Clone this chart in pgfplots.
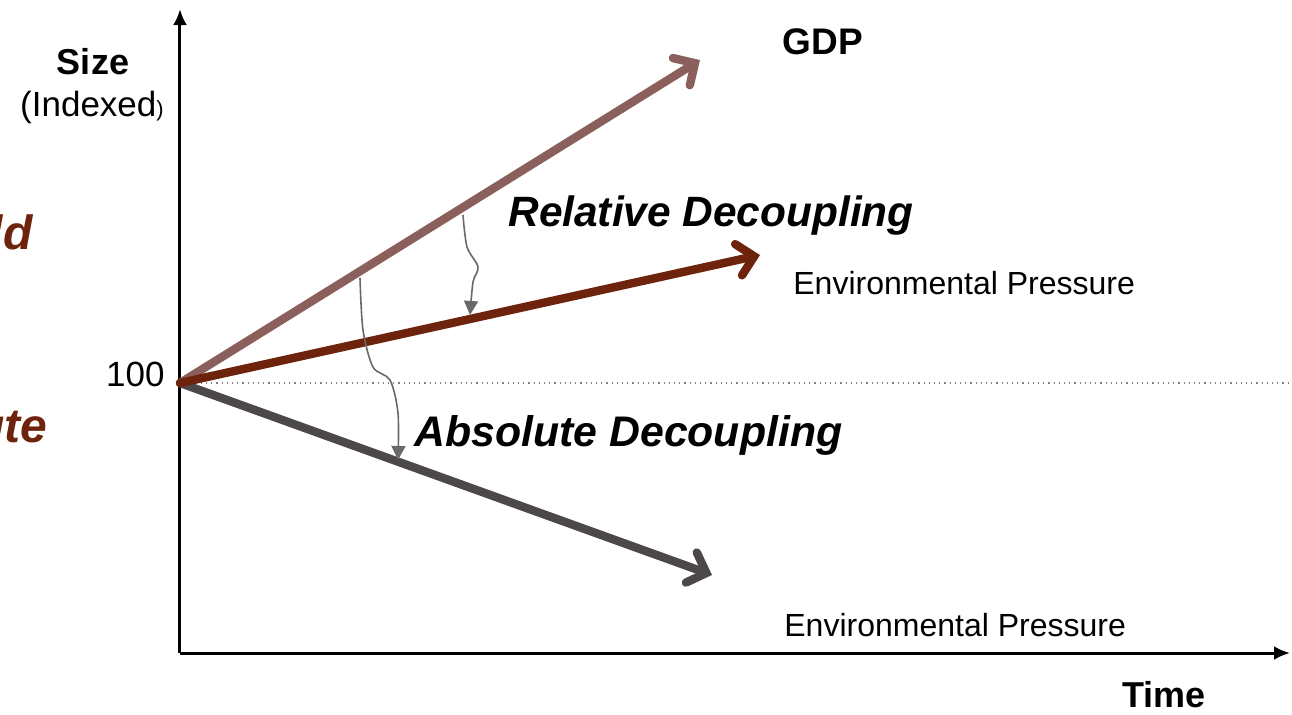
\documentclass[border=0pt]{standalone}
\usepackage{pgfplots}
\pgfplotsset{compat=1.18}
\usepackage{fontspec}
\setmainfont{Liberation Sans}
\usetikzlibrary{arrows.meta}
\definecolor{gdpc}{RGB}{139,95,92}
\definecolor{relc}{RGB}{110,35,12}
\definecolor{absc}{RGB}{77,72,72}
\definecolor{conc}{RGB}{105,105,105}
\begin{document}
\begin{tikzpicture}
\path[use as bounding box, clip] (0,0) rectangle (646pt,357pt);
\begin{axis}[
  at={(0,0)}, anchor=south west,
  scale only axis, width=646pt, height=357pt,
  xmin=-18, xmax=111.2, ymin=-22.59, ymax=241.85,
  hide axis, clip=false,
]
% axes
\addplot[black, line width=1.5pt, -{Latex[length=8pt,width=7pt]}] coordinates {(0,0) (0,238.5)};
\addplot[black, line width=1.5pt, -{Latex[length=8pt,width=7pt]}] coordinates {(0,0) (111,0)};
% dotted reference line
\addplot[gray, dotted, line width=0.6pt] coordinates {(0,100) (111.2,100)};
% series
\addplot[absc, line width=4.2pt, line cap=round, -{Straight Barb[length=8pt,width=16pt,line cap=round]}] coordinates {(0,100) (53.2,28.9)};
\addplot[gdpc, line width=4.2pt, line cap=round, -{Straight Barb[length=8pt,width=16pt,line cap=round]}] coordinates {(0,100) (52,219.6)};
\addplot[relc, line width=4.2pt, line cap=round, -{Straight Barb[length=8pt,width=16pt,line cap=round]}] coordinates {(0,100) (58,147.4)};
% connectors
\addplot[conc, line width=0.8pt, smooth, -{Triangle[length=7pt,width=7pt]}] coordinates {(28.3,162.2) (28.7,150.4) (29.8,143.0) (29.3,137.4) (29.0,125.2)};
\addplot[conc, line width=0.8pt, smooth, -{Triangle[length=7pt,width=7pt]}] coordinates {(18,138.9) (18.3,119.6) (19.3,105.9) (21,101.1) (21.8,88.9) (21.8,71.5)};
% labels
\node[inner sep=0pt, font=\fontsize{18}{20}\selectfont\bfseries] at (axis cs:-8.7,218.9) {Size};
\node[inner sep=0pt, font=\fontsize{17.5}{19}\selectfont] at (axis cs:-8.8,201.9) {(Indexed{\fontsize{11}{12}\selectfont)}};
\node[inner sep=0pt, anchor=east, font=\fontsize{17.5}{19}\selectfont] at (axis cs:-1.5,103.0) {100};
\node[inner sep=0pt, font=\fontsize{18.5}{20}\selectfont\bfseries] at (axis cs:64.3,226.3) {GDP};
\node[inner sep=0pt, anchor=west, font=\fontsize{21.2}{23}\selectfont\bfseries\itshape] at (axis cs:32.8,162.2) {Relative Decoupling};
\node[inner sep=0pt, anchor=west, font=\fontsize{16}{18}\selectfont] at (axis cs:61.3,137.0) {Environmental Pressure};
\node[inner sep=0pt, anchor=west, font=\fontsize{21.4}{23}\selectfont\bfseries\itshape] at (axis cs:23.4,80.4) {Absolute Decoupling};
\node[inner sep=0pt, anchor=west, font=\fontsize{16}{18}\selectfont] at (axis cs:60.4,10.4) {Environmental Pressure};
\node[inner sep=0pt, font=\fontsize{18}{20}\selectfont\bfseries] at (axis cs:98.4,-15.6) {Time};
\node[inner sep=0pt, anchor=east, text=relc, font=\fontsize{24}{26}\selectfont\bfseries\itshape] at (axis cs:-14.7,155.9) {World};
\node[inner sep=0pt, anchor=east, text=relc, font=\fontsize{24}{26}\selectfont\bfseries\itshape] at (axis cs:-13.2,84.4) {Absolute};
\end{axis}
\end{tikzpicture}
\end{document}
